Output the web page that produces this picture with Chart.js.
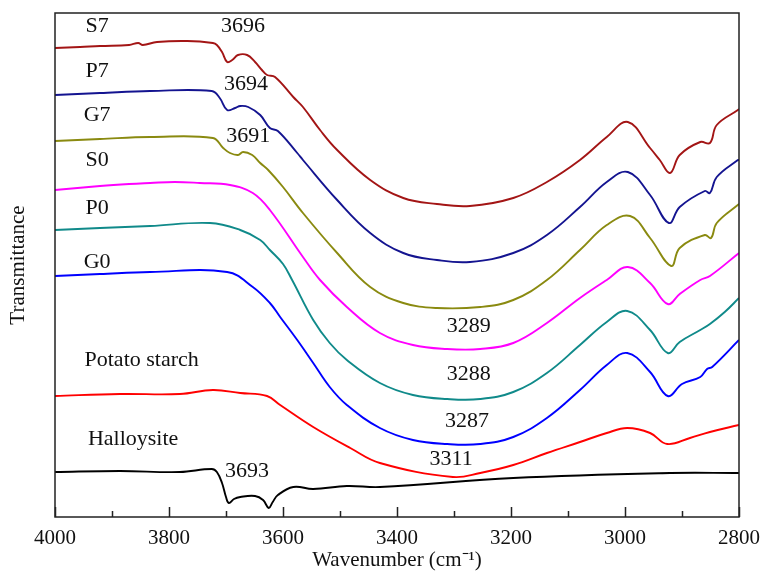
<!DOCTYPE html>
<html>
<head>
<meta charset="utf-8">
<script src="https://cdn.jsdelivr.net/npm/chart.js@4.4.1/dist/chart.umd.min.js"></script>
<style>
  html, body { margin: 0; padding: 0; background: #fff; }
  #wrap { width: 763px; height: 576px; }
</style>
</head>
<body>
<div id="wrap"><canvas id="ftir" width="763" height="576"></canvas></div>
<script>
// Espectros FTIR (transmitancia, unidades arbitrarias con desplazamiento)
const wnS7 = [4000, 3956, 3921, 3870, 3854, 3846, 3821, 3768, 3723, 3716, 3707, 3698, 3689, 3679, 3663, 3649, 3637, 3628, 3614, 3582, 3565, 3535, 3505, 3447, 3389, 3330, 3272, 3196, 3137, 3079, 3032, 2995, 2956, 2939, 2921, 2904, 2868, 2851, 2839, 2802, 2800];
const tS7  = [469, 470, 471, 472, 474, 472, 475, 476, 474, 472, 465, 455, 457, 462, 462, 455, 447, 442, 440, 420, 410, 387, 367, 337, 319, 313, 311, 319, 335, 357, 380, 395, 369, 357, 344, 362, 375, 374, 392, 407, 408];

const wnP7 = [4000, 3921, 3833, 3725, 3711, 3698, 3684, 3675, 3661, 3640, 3623, 3609, 3575, 3565, 3505, 3447, 3389, 3330, 3272, 3196, 3137, 3079, 3032, 2995, 2956, 2923, 2904, 2860, 2851, 2839, 2802, 2800];
const tP7  = [422, 424, 426, 426, 419, 407, 409, 411, 410, 402, 389, 386, 364, 357, 317, 284, 264, 257, 255, 264, 282, 310, 335, 345, 322, 294, 310, 326, 324, 340, 357, 357];

const wnG7 = [4000, 3921, 3833, 3723, 3705, 3693, 3679, 3670, 3654, 3640, 3626, 3600, 3565, 3505, 3447, 3389, 3330, 3254, 3196, 3137, 3079, 3032, 2991, 2956, 2919, 2904, 2860, 2849, 2839, 2800];
const tG7  = [376, 378, 380, 379, 369, 364, 362, 365, 362, 354, 347, 330, 304, 264, 230, 214, 209, 210, 217, 237, 267, 292, 301, 279, 251, 269, 282, 279, 294, 313];

const wnS0 = [4000, 3921, 3870, 3833, 3790, 3746, 3693, 3653, 3623, 3565, 3535, 3488, 3430, 3372, 3312, 3254, 3196, 3137, 3079, 3032, 2995, 2956, 2925, 2904, 2868, 2851, 2800];
const tS0  = [327, 331, 333, 334, 335, 334, 332, 324, 307, 260, 237, 210, 184, 172, 168, 168, 174, 194, 219, 237, 250, 234, 213, 223, 237, 241, 264];

const wnP0 = [4000, 3921, 3833, 3728, 3675, 3640, 3623, 3600, 3584, 3547, 3518, 3488, 3430, 3372, 3312, 3254, 3196, 3137, 3079, 3032, 2996, 2956, 2925, 2904, 2868, 2851, 2825, 2800];
const tP0  = [287, 289, 291, 294, 287, 277, 267, 253, 237, 197, 174, 157, 134, 122, 118, 118, 125, 144, 172, 195, 206, 187, 164, 175, 187, 193, 205, 219];

const wnG0 = [4000, 3921, 3833, 3698, 3653, 3623, 3605, 3575, 3547, 3518, 3488, 3430, 3372, 3312, 3254, 3196, 3137, 3079, 3032, 2996, 2956, 2925, 2900, 2868, 2856, 2847, 2800];
const tG0  = [241, 243, 245, 245, 230, 214, 200, 177, 154, 130, 112, 89, 77, 73, 73, 80, 99, 127, 152, 164, 145, 121, 133, 140, 148, 150, 177];

const wnPS = [4000, 3886, 3781, 3723, 3675, 3628, 3605, 3547, 3482, 3430, 3302, 3254, 3196, 3137, 3079, 3032, 2996, 2956, 2926, 2886, 2851, 2800];
const tPS  = [121, 123, 123, 127, 124, 121, 112, 90, 69, 54, 40, 44, 52, 64, 75, 84, 89, 84, 73, 79, 85, 92];

const wnHal = [4000, 3886, 3781, 3725, 3716, 3707, 3700, 3695, 3686, 3675, 3649, 3635, 3625, 3618, 3609, 3582, 3547, 3488, 3430, 3196, 2921, 2800];
const tHal  = [45, 46, 45, 48, 45, 34, 20, 14, 18, 20, 21, 17, 9, 15, 22, 30, 28, 31, 30, 39, 44, 44];

const seriesNames  = ['S7', 'P7', 'G7', 'S0', 'P0', 'G0', 'Potato starch', 'Halloysite'];
const seriesColors = ['#A31515', '#141490', '#8A8A10', '#FF00FF', '#108A8A', '#0000FF', '#FF0000', '#000000'];
const seriesWn = [wnS7, wnP7, wnG7, wnS0, wnP0, wnG0, wnPS, wnHal];
const seriesT  = [tS7, tP7, tG7, tS0, tP0, tG0, tPS, tHal];

const xTicks = [4000, 3800, 3600, 3400, 3200, 3000, 2800];

// Etiquetas: texto + posicion en unidades de datos (numero de onda, transmitancia)
const labelText = ['S7', '3696', 'P7', '3694', 'G7', '3691', 'S0', 'P0', 'G0', 'Potato starch', 'Halloysite', '3693', '3289', '3288', '3287', '3311'];
const labelWn   = [3926, 3670, 3926, 3665, 3926, 3661, 3926, 3926, 3926, 3848, 3863, 3663, 3274, 3274, 3277, 3305];
const labelT    = [491, 491, 446, 433, 402, 381, 357, 309, 255, 157, 78, 46, 191, 143, 96, 58];

const serif = '"Liberation Serif", "Times New Roman", serif';

const datasets = seriesNames.map((name, i) => ({
    label: name,
    data: seriesWn[i].map((w, k) => ({ x: w, y: seriesT[i][k] })),
    borderColor: seriesColors[i],
    borderWidth: 1.9,
    pointRadius: 0,
    fill: false,
    tension: 0.4
}));

// Marco + ticks hacia dentro + etiquetas de picos
const framePlugin = {
    id: 'frame',
    afterDraw(chart) {
        const { ctx, chartArea: a, scales } = chart;
        const xs = scales.x, ys = scales.y;
        ctx.save();
        ctx.strokeStyle = '#222';
        ctx.lineWidth = 1.5;
        ctx.strokeRect(a.left, a.top, a.right - a.left, a.bottom - a.top);
        ctx.beginPath();
        for (let w = 2800; w <= 4000; w += 100) {
            const px = Math.round(xs.getPixelForValue(w)) + 0.5;
            const len = (w % 200 === 0) ? 10 : 6;
            ctx.moveTo(px, a.bottom);
            ctx.lineTo(px, a.bottom - len);
        }
        ctx.stroke();

        ctx.fillStyle = '#111';
        ctx.font = '22px ' + serif;
        ctx.textAlign = 'center';
        ctx.textBaseline = 'middle';
        labelText.forEach((t, i) => {
            ctx.fillText(t, xs.getPixelForValue(labelWn[i]), ys.getPixelForValue(labelT[i]));
        });
        ctx.restore();
    }
};

new Chart(document.getElementById('ftir'), {
    type: 'line',
    data: { datasets },
    options: {
        responsive: false,
        animation: false,
        devicePixelRatio: 1,
        layout: { padding: { top: 13, right: 24, left: 0, bottom: 0 } },
        plugins: { legend: { display: false }, tooltip: { enabled: false } },
        scales: {
            x: {
                type: 'linear',
                reverse: true,
                min: 2800,
                max: 4000,
                afterBuildTicks: s => { s.ticks = xTicks.map(v => ({ value: v })); },
                afterFit: s => { s.height = 59; s.paddingLeft = 0; s.paddingRight = 0; },
                grid: { display: false, drawTicks: false },
                border: { display: false },
                ticks: { color: '#111', font: { family: serif, size: 21 }, padding: 9, maxRotation: 0, autoSkip: false, callback: v => String(v) },
                title: { display: true, text: 'Wavenumber (cm⁻¹)', color: '#111', font: { family: serif, size: 21 }, padding: { top: 0, bottom: 3 } }
            },
            y: {
                min: 0,
                max: 504,
                afterFit: s => { s.width = 55; },
                grid: { display: false, drawTicks: false },
                border: { display: false },
                ticks: { display: false },
                title: { display: true, text: 'Transmittance', color: '#111', font: { family: serif, size: 21 }, padding: { top: 6, bottom: 0 } }
            }
        }
    },
    plugins: [framePlugin]
});
</script>
</body>
</html>
